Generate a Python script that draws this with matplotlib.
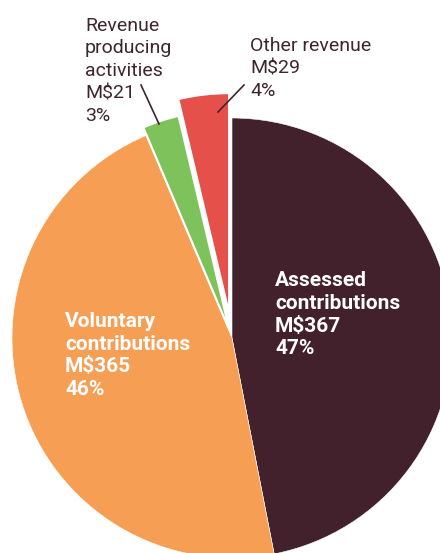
import matplotlib
matplotlib.use("Agg")
import matplotlib.pyplot as plt

labels = ["Assessed contributions", "Voluntary contributions",
          "Revenue producing activities", "Other revenue"]
values = [367, 365, 21, 29]
percents = [47, 46, 3, 4]
colors = ["#42212D", "#F79E55", "#7DC25B", "#E5504A"]
explode = [0, 0, 8.5, 25]

W, H = 440, 553
fig = plt.figure(figsize=(W / 100, H / 100), dpi=100)
ax = fig.add_axes([0, 0, 1, 1])

cx, cy, r = 232, H - 338, 220
wedges, _ = ax.pie(values, startangle=90, counterclock=False, colors=colors,
                   explode=explode, radius=r, center=(cx, cy), frame=True,
                   wedgeprops=dict(edgecolor="white", linewidth=1.5))
wedges[0].set_linewidth(0.4)
wedges[1].set_linewidth(0.4)
ax.set_xlim(0, W)
ax.set_ylim(0, H)
ax.set_aspect("equal")
ax.axis("off")

font = ["Roboto", "DejaVu Sans"]
textc = "#3E2530"

ax.text(275, H - 271, "Assessed\ncontributions\nM$%d\n%d%%" % (values[0], percents[0]),
        color="white", fontsize=15, fontweight="bold", family=font,
        va="top", ha="left", linespacing=1.25)
ax.text(65, H - 312, "Voluntary\ncontributions\nM$%d\n%d%%" % (values[1], percents[1]),
        color="white", fontsize=15, fontweight="bold", family=font,
        va="top", ha="left", linespacing=1.25)
ax.text(85, H - 17, "Revenue\nproducing\nactivities\nM$%d\n%d%%" % (values[2], percents[2]),
        color=textc, fontsize=14, family=font, va="top", ha="left", linespacing=1.32)
ax.text(250, H - 37, "Other revenue\nM$%d\n%d%%" % (values[3], percents[3]),
        color=textc, fontsize=14, family=font, va="top", ha="left", linespacing=1.32)

ax.plot([141, 159], [H - 85, H - 124], color=textc, lw=1.2)
ax.plot([244, 218], [H - 85, H - 112], color=textc, lw=1.2)

fig.savefig("out.png", dpi=100)
